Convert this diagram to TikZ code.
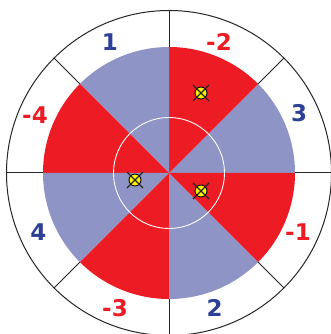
\documentclass[tikz,border=0pt]{standalone}
\usepackage{fontspec}
\setmainfont{DejaVu Sans}
\definecolor{sred}{RGB}{237,28,36}
\definecolor{sblue}{RGB}{143,148,199}
\definecolor{lblue}{RGB}{46,64,150}
\begin{document}
\begin{tikzpicture}[x=1pt,y=1pt,
  lab/.style={font=\bfseries\fontsize{23}{23}\selectfont,inner sep=0pt},
  redlab/.style={lab,text=sred},
  bluelab/.style={lab,text=lblue},
  tick/.style={draw=black!85,line width=1pt},
  marker/.pic={
    \fill[yellow,draw=black,line width=0.9pt] (0,0) circle (6);
    \draw[black!85,line width=1.1pt] (-8,-8) -- (8,8) (-8,8) -- (8,-8);
  }]
\useasboundingbox (-169,-161) rectangle (162,173);
\fill[white] (-169,-161) rectangle (162,173);
\coordinate (c) at (0,0);
% sectors
\foreach \a/\col in {0/sblue,45/sred,90/sblue,135/sred,180/sblue,225/sred,270/sblue,315/sred}{
  \fill[\col] (c) -- (\a:126) arc[start angle=\a, end angle=\a+45, radius=126] -- cycle;
}
% inner white circle
\draw[white,line width=0.9pt] (c) circle (55.5);
% outer circle
\draw[black!85,line width=1pt] (c) circle (162.5);
% ticks
\foreach \a in {0,45,...,315}{
  \draw[tick] (\a:126) -- (\a:162.5);
}
% markers
\pic at (32,80) {marker};
\pic at (-34,-7) {marker};
\pic at (32,-18) {marker};
% labels
\node[bluelab] (l1) at (-59,130.5) {1};
\node[redlab] (lm2) at (50,131) {-2};
\node[bluelab] (l3) at (130,60) {3};
\node[redlab] (lm1) at (129,-59) {-1};
\node[bluelab] (l2) at (45.5,-135) {2};
\node[redlab] (lm3) at (-54,-135) {-3};
\node[bluelab] (l4) at (-130.5,-59) {4};
\node[redlab] (lm4) at (-134,58) {-4};
\end{tikzpicture}
\end{document}
